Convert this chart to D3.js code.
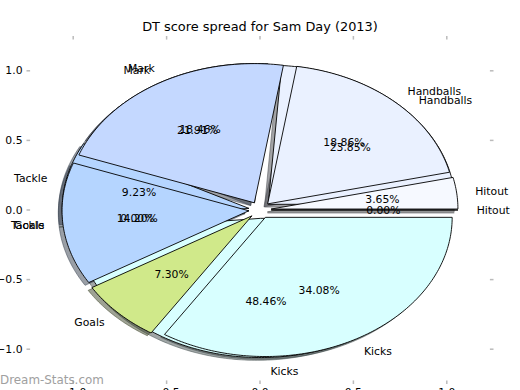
<!DOCTYPE html>
<html>
<head>
<meta charset="utf-8">
<script src="https://cdn.jsdelivr.net/npm/d3@7"></script>
<style>
  body { margin: 0; background: #fff; }
  text { font-family: "DejaVu Sans", sans-serif; }
</style>
</head>
<body>
<div id="chart"></div>
<script>
// wedge order, counter-clockwise from 3 o'clock
const categories = ["Hitout", "Handballs", "Mark", "Tackle", "Goals", "Kicks"];
// two spreads drawn on top of each other (percent of DT score)
const seriesA = [0.00, 23.85, 18.46, 9.23, 0.00, 48.46];
const seriesB = [3.65, 18.86, 21.91, 14.20, 7.30, 34.08];
const colors = ["#f6f9ff", "#eaf1ff", "#c4d8ff", "#b5d5ff", "#d0e98a", "#d8ffff"];
const tickValues = [-1.0, -0.5, 0.0, 0.5, 1.0];
const title = "DT score spread for Sam Day (2013)";

const width = 520, height = 390;
const explode = 0.06, shadowOff = -0.02;

const svg = d3.select("#chart").append("svg")
    .attr("width", width)
    .attr("height", height);

// axes box is -1.25..1.25 on both axes, aspect not equal -> ellipse
const x = d3.scaleLinear().domain([-1.25, 1.25]).range([26.5, 493.5]);
const y = d3.scaleLinear().domain([-1.25, 1.25]).range([384, 36]);

const pie = d3.pie().sort(null).value(d => d)
    .startAngle(0).endAngle(2 * Math.PI);

const line = d3.line().x(d => x(d[0])).y(d => y(d[1]));

// wedge outline in data units, angles counter-clockwise
function wedgePath(cx, cy, a0, a1) {
    const pts = [[cx, cy]];
    const n = Math.max(2, Math.ceil((a1 - a0) / (Math.PI / 180)));
    for (let i = 0; i <= n; i++) {
        const t = a0 + (a1 - a0) * i / n;
        pts.push([cx + Math.cos(t), cy + Math.sin(t)]);
    }
    return line(pts) + "Z";
}

const gShadow = svg.append("g");
const gWedge = svg.append("g");
const gText = svg.append("g");

const fmt = d3.format(".2f");

[seriesA, seriesB].forEach(series => {
    const arcs = pie(series);
    arcs.forEach((a, i) => {
        const tm = (a.startAngle + a.endAngle) / 2;
        const cx = explode * Math.cos(tm), cy = explode * Math.sin(tm);
        const c = d3.rgb(colors[i]);
        const dark = d3.rgb(c.r * 0.3, c.g * 0.3, c.b * 0.3);

        gShadow.append("path")
            .attr("d", wedgePath(cx + shadowOff, cy + shadowOff, a.startAngle, a.endAngle))
            .attr("fill", dark)
            .attr("fill-opacity", 0.5)
            .attr("stroke", dark)
            .attr("stroke-opacity", 0.5)
            .attr("stroke-width", 1);

        gWedge.append("path")
            .attr("d", wedgePath(cx, cy, a.startAngle, a.endAngle))
            .attr("fill", colors[i])
            .attr("stroke", "#000")
            .attr("stroke-width", 0.9)
            .attr("stroke-linejoin", "miter");

        const lx = cx + 1.1 * Math.cos(tm), ly = cy + 1.1 * Math.sin(tm);
        gText.append("text")
            .attr("x", x(lx))
            .attr("y", y(ly))
            .attr("text-anchor", lx > 0 ? "start" : "end")
            .attr("dominant-baseline", "central")
            .attr("font-size", "10.8px")
            .text(categories[i]);

        const px = cx + 0.6 * Math.cos(tm), py = cy + 0.6 * Math.sin(tm);
        gText.append("text")
            .attr("x", x(px))
            .attr("y", y(py))
            .attr("text-anchor", "middle")
            .attr("dominant-baseline", "central")
            .attr("font-size", "10.8px")
            .text(fmt(a.data) + "%");
    });
});

// ticks (inward, thin) on all four sides, labels left and bottom
const tickColor = "#bbb";
const gAxis = svg.append("g");
tickValues.forEach(v => {
    gAxis.append("line").attr("x1", x(-1.25)).attr("x2", x(-1.25) + 3.6)
        .attr("y1", y(v)).attr("y2", y(v)).attr("stroke", tickColor).attr("stroke-width", 1.5);
    gAxis.append("line").attr("x1", x(1.25)).attr("x2", x(1.25) - 3.6)
        .attr("y1", y(v)).attr("y2", y(v)).attr("stroke", tickColor).attr("stroke-width", 1.5);
    gAxis.append("line").attr("x1", x(v)).attr("x2", x(v))
        .attr("y1", y(1.25)).attr("y2", y(1.25) + 3.6).attr("stroke", tickColor).attr("stroke-width", 1.5);
    gAxis.append("line").attr("x1", x(v)).attr("x2", x(v))
        .attr("y1", y(-1.25)).attr("y2", y(-1.25) - 3.6).attr("stroke", tickColor).attr("stroke-width", 1.5);

    const lbl = (v < 0 ? "\u2212" : "") + Math.abs(v).toFixed(1);
    gAxis.append("text")
        .attr("x", x(-1.25) - 4)
        .attr("y", y(v))
        .attr("text-anchor", "end")
        .attr("dominant-baseline", "central")
        .attr("font-size", "10.8px")
        .text(lbl);
    gAxis.append("text")
        .attr("x", x(v))
        .attr("y", y(-1.25) + 4)
        .attr("text-anchor", "middle")
        .attr("dominant-baseline", "hanging")
        .attr("font-size", "10.8px")
        .text(lbl);
});

svg.append("text")
    .attr("x", width / 2)
    .attr("y", 26)
    .attr("text-anchor", "middle")
    .attr("dominant-baseline", "central")
    .attr("font-size", "12.9px")
    .text(title);

svg.append("text")
    .attr("x", 0)
    .attr("y", 380)
    .attr("dominant-baseline", "central")
    .attr("font-size", "11.9px")
    .attr("fill", "#a0a0a0")
    .text("Dream-Stats.com");
</script>
</body>
</html>
